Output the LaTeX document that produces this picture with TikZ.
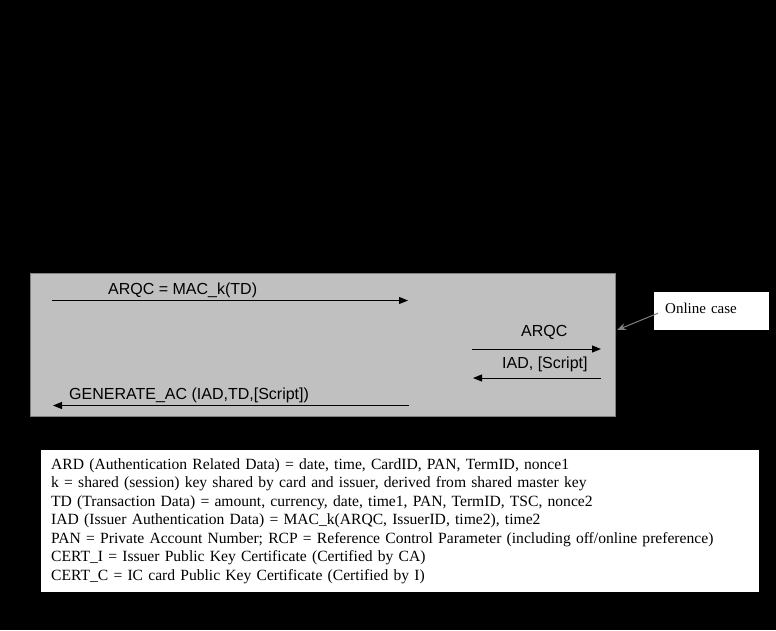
\documentclass[tikz,border=0pt]{standalone}
\usepackage{fontspec}
\setmainfont{Liberation Serif}
\setsansfont{Liberation Sans}
\usetikzlibrary{arrows.meta,positioning}
\definecolor{grisclaro}{HTML}{C0C0C0}
\definecolor{grisoscuro}{HTML}{808080}

\begin{document}
\begin{tikzpicture}[x=1pt, y=-1pt,
      caja/.style={rectangle, fill=grisclaro, draw=grisoscuro, line width=1pt,
                   minimum width=585pt, minimum height=143pt, anchor=north west},
      nota/.style={rectangle, fill=white, anchor=north west, align=left,
                   font=\fontsize{15}{18.5}\selectfont},
      etiqueta/.style={anchor=base west, inner sep=0pt, font=\sffamily\fontsize{16}{19}\selectfont},
      flecha/.style={-{Triangle[length=9pt,width=7pt]}, draw=black, line width=1pt},
      puntero/.style={-{Stealth[length=9pt,width=7pt]}, draw=grisoscuro, line width=1pt}]

    \fill[black] (0,0) rectangle (776,630);
    \useasboundingbox (0,0) rectangle (776,630);

    \node[caja] (caso) at (30,273) {};

    % mensajes tarjeta / terminal / emisor
    \coordinate (arqc1) at (52,300.5);
    \coordinate (arqc2) at (408,300.5);
    \coordinate (gen1) at (409,405.5);
    \coordinate (gen2) at (53,405.5);
    \coordinate (arqc3) at (472,349);
    \coordinate (arqc4) at (601,349);
    \coordinate (iad1) at (601,378);
    \coordinate (iad2) at (473,378);

    \node[etiqueta] (lmac) at (108,294) {ARQC = MAC\_k(TD)};
    \node[etiqueta] (lgen) at (69,399) {GENERATE\_AC (IAD,TD,[Script])};
    \node[etiqueta] (larqc) at (521,336) {ARQC};
    \node[etiqueta] (liad) at (502,368.5) {IAD, [Script]};

    \draw[flecha] (arqc1) -- (arqc2);
    \draw[flecha] (gen1) -- (gen2);
    \draw[flecha] (arqc3) -- (arqc4);
    \draw[flecha] (iad1) -- (iad2);

    % caso en linea
    \node[nota, text width=93pt, inner xsep=11pt, inner ysep=0pt,
          text height=21pt, text depth=17pt] (online) at (654,292) {Online case};
    \coordinate (borde) at (617,330);
    \draw[puntero] ([xshift=4pt,yshift=-2pt]online.west) -- (borde);

    % leyenda
    \node[nota, text width=698pt, inner xsep=10pt, inner ysep=0pt, minimum height=142pt,
          font=\fontsize{15.6}{18.5}\selectfont] (leyenda) at (41,450)
      {ARD (Authentication Related Data) = date, time, CardID, PAN, TermID, nonce1\\
       k = shared (session) key shared by card and issuer, derived from shared master key\\
       TD (Transaction Data) = amount, currency, date, time1, PAN, TermID, TSC, nonce2\\
       IAD (Issuer Authentication Data) = MAC\_k(ARQC, IssuerID, time2), time2\\
       PAN = Private Account Number; RCP = Reference Control Parameter (including off/online preference)\\
       CERT\_I = Issuer Public Key Certificate (Certified by CA)\\
       CERT\_C = IC card Public Key Certificate (Certified by I)};
  \end{tikzpicture}
\end{document}
